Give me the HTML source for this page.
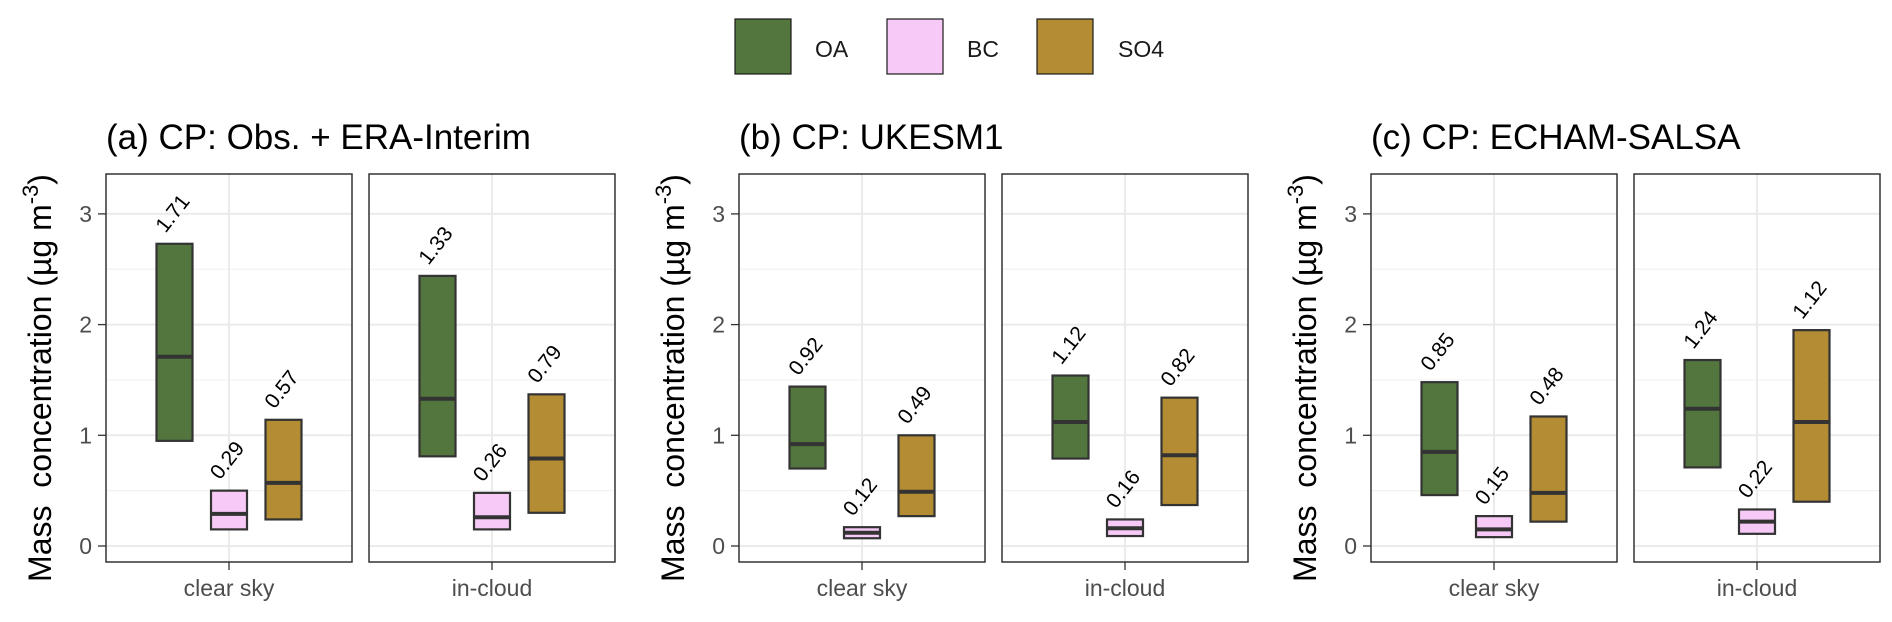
<!DOCTYPE html>
<html><head><meta charset="utf-8"><style>
html,body{margin:0;padding:0;background:#fff;}
svg{display:block;font-family:"Liberation Sans",Arial,sans-serif;}
</style></head><body>
<svg id="chart" width="1892" height="622" viewBox="0 0 1892 622" xmlns="http://www.w3.org/2000/svg">
<g id="legend">
 <rect x="735" y="19" width="56" height="55" fill="#53763f" stroke="#1a1a1a" stroke-width="1.2"/>
 <text x="815" y="57" font-size="23" fill="#1a1a1a">OA</text>
 <rect x="887" y="19" width="56" height="55" fill="#f7c9f6" stroke="#1a1a1a" stroke-width="1.2"/>
 <text x="967" y="57" font-size="23" fill="#1a1a1a">BC</text>
 <rect x="1037" y="19" width="56" height="55" fill="#b38c33" stroke="#1a1a1a" stroke-width="1.2"/>
 <text x="1118" y="57" font-size="23" fill="#1a1a1a">SO4</text>
</g>
<g id="plots"></g>
</svg>
<script>
const groupTitles = ["(a) CP: Obs. + ERA-Interim", "(b) CP: UKESM1", "(c) CP: ECHAM-SALSA"];
const facets = ["clear sky", "in-cloud"];
const species = ["OA", "BC", "SO4"];
const yTicks = [0, 1, 2, 3];
// [group][facet][species] = [lower, median, upper]
const lowerVals = [
  [[0.95,0.15,0.24],[0.81,0.15,0.30]],
  [[0.70,0.07,0.27],[0.79,0.09,0.37]],
  [[0.46,0.08,0.22],[0.71,0.11,0.40]]
];
const medianVals = [
  [[1.71,0.29,0.57],[1.33,0.26,0.79]],
  [[0.92,0.12,0.49],[1.12,0.16,0.82]],
  [[0.85,0.15,0.48],[1.24,0.22,1.12]]
];
const upperVals = [
  [[2.73,0.50,1.14],[2.44,0.48,1.37]],
  [[1.44,0.17,1.00],[1.54,0.24,1.34]],
  [[1.48,0.27,1.17],[1.68,0.33,1.95]]
];
const colors = {OA:"#53763f", BC:"#f7c9f6", SO4:"#b38c33"};

const NS = "http://www.w3.org/2000/svg";
const root = document.getElementById("plots");
const groupX = [106, 739, 1371];
const panelW = 246, panelGap = 17, panelTop = 174, panelBot = 562;
const y0 = 546, unit = 110.7;
function yScale(v){ return y0 - v*unit; }
function mk(tag, attrs, parent){ const e=document.createElementNS(NS,tag); for(const k in attrs) e.setAttribute(k, attrs[k]); parent.appendChild(e); return e; }

groupTitles.forEach((title, g) => {
  const gx = groupX[g];
  const grp = mk("g", {}, root);
  
  
  const t = mk("text", {x: gx, y: 149, "font-size": 35, fill: "#000"}, grp);
  t.textContent = title;
  
  
  const yt = mk("text", {x: 0, y: 0, "font-size": 32, fill: "#000", "text-anchor": "middle", transform: `translate(${gx-55},${(panelTop+panelBot)/2+10}) rotate(-90)`}, grp);
  yt.innerHTML = 'Mass\u00a0\u00a0concentration (µg m<tspan dy="-13" font-size="22">-3</tspan><tspan dy="13">)</tspan>';
  
  
  yTicks.forEach(v => {
    const yy = yScale(v);
    const tl = mk("text", {x: gx-14, y: yy+8, "font-size": 23, fill: "#4d4d4d", "text-anchor": "end"}, grp);
    tl.textContent = v;
    
    
    const tm = mk("line", {x1: gx-8, x2: gx, y1: yy, y2: yy, stroke: "#333", "stroke-width": 1.3}, grp);
    
    
  });
  facets.forEach((fname, f) => {
    const px = gx + f*(panelW+panelGap);
    const cx = px + panelW/2;
    const pg = mk("g", {}, grp);
    
    
    [0.5,1.5,2.5].forEach(v => {
      const l = mk("line", {x1: px, x2: px+panelW, y1: yScale(v), y2: yScale(v), stroke: "#f2f2f2", "stroke-width": 1.2}, pg);
      
      
    });
    yTicks.forEach(v => {
      const l = mk("line", {x1: px, x2: px+panelW, y1: yScale(v), y2: yScale(v), stroke: "#ebebeb", "stroke-width": 2}, pg);
      
      
    });
    const vl = mk("line", {x1: cx, x2: cx, y1: panelTop, y2: panelBot, stroke: "#ebebeb", "stroke-width": 2}, pg);
    
    
    species.forEach((sp, s) => {
      const bx = cx + (s-1)*54.5 - 18;
      const lo = lowerVals[g][f][s], md = medianVals[g][f][s], up = upperVals[g][f][s];
      const r = mk("rect", {x: bx, y: yScale(up), width: 36, height: yScale(lo)-yScale(up), fill: colors[sp], stroke: "#333", "stroke-width": 2.2}, pg);
      
      
      const m = mk("line", {x1: bx, x2: bx+36, y1: yScale(md), y2: yScale(md), stroke: "#333", "stroke-width": 4}, pg);
      
      
      const lx = bx + 9, ly = yScale(up) - 10;
      const lab = mk("text", {x: lx, y: ly, "font-size": 21, fill: "#000", transform: `rotate(-52 ${lx} ${ly})`}, pg);
      lab.textContent = md.toFixed(2);
      
      
    });
    const border = mk("rect", {x: px, y: panelTop, width: panelW, height: panelBot-panelTop, fill: "none", stroke: "#333", "stroke-width": 1.5}, pg);
    
    
    const xt = mk("line", {x1: cx, x2: cx, y1: panelBot, y2: panelBot+8, stroke: "#333", "stroke-width": 1.3}, pg);
    
    
    const xl = mk("text", {x: cx, y: 596, "font-size": 23, fill: "#4d4d4d", "text-anchor": "middle"}, pg);
    xl.textContent = fname;
    
    
  });
});
</script>
</body></html>
